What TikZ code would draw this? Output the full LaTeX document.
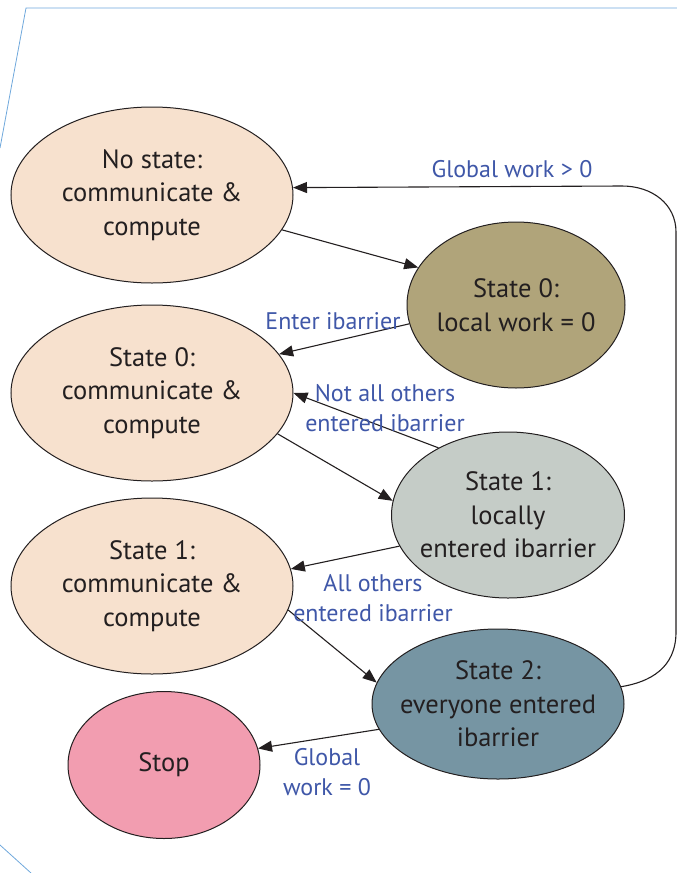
\documentclass[tikz,border=0pt]{standalone}
\usepackage{fontspec}
\setmainfont{PT Sans}
\usetikzlibrary{shapes.geometric,arrows.meta}
\definecolor{peach}{RGB}{247,225,206}
\definecolor{olive}{RGB}{176,164,122}
\definecolor{greyst}{RGB}{197,204,199}
\definecolor{steel}{RGB}{118,149,163}
\definecolor{pinkst}{RGB}{242,157,176}
\definecolor{lblue}{RGB}{63,87,168}
\definecolor{frameblue}{RGB}{111,168,220}
\definecolor{ink}{RGB}{35,31,32}
\tikzset{
  st/.style={ellipse, draw=ink, line width=1pt, inner sep=-40pt, align=center,
    text=ink, font=\fontsize{26.5}{33.5}\selectfont},
  conn/.style={draw=ink, line width=1.1pt, -{Triangle[length=14pt,width=11pt]}},
  lbl/.style={text=lblue, align=center, font=\fontsize{24}{30}\selectfont, inner sep=0pt},
  frame/.style={draw=frameblue, line width=0.8pt}
}
\begin{document}
\begin{tikzpicture}[x=1pt,y=-1pt]
\useasboundingbox (0,0) rectangle (677,873);
% frame lines
\coordinate (f1) at (0,148);
\coordinate (f2) at (26,8);
\coordinate (f3) at (677,8);
\coordinate (f4) at (0,845);
\coordinate (f5) at (31,873);
\draw[frame] (f1) -- (f2) -- (f3);
\draw[frame] (f4) -- (f5);
% states
\node[st, fill=peach, minimum width=282pt, minimum height=176pt] (ns) at (152,195) {No state:\\communicate \&\\compute};
\node[st, fill=olive, minimum width=218pt, minimum height=166pt] (lw) at (516,305) {State 0:\\local work = 0};
\node[st, fill=peach, minimum width=282pt, minimum height=176pt] (c0) at (152,393) {State 0:\\communicate \&\\compute};
\node[st, fill=greyst, minimum width=233pt, minimum height=166pt] (le) at (508,515) {State 1:\\locally\\entered ibarrier};
\node[st, fill=peach, minimum width=282pt, minimum height=176pt] (c1) at (152,586) {State 1:\\communicate \&\\compute};
\node[st, fill=steel, minimum width=252pt, minimum height=150pt] (s2) at (498,704) {State 2:\\everyone entered\\ibarrier};
\node[st, fill=pinkst, minimum width=192pt, minimum height=147pt] (sp) at (164,765) {Stop};
% connectors
\draw[conn] (ns.-15) -- (lw.159);
\draw[conn] (lw.190) -- (c0.17);
\draw[conn] (le.136) -- (c0.0);
\draw[conn] (c0.-18) -- (le.173);
\draw[conn] (le.196) -- (c1.7);
\draw[conn] (c1.-10) -- (s2.170);
\draw[conn] (s2.192) -- (sp.10);
\draw[conn] (s2.8) .. controls (650,682) and (676,668) .. (676,632)
  -- (676,232) .. controls (676,204) and (652,186) .. (622,186) -- (ns.3.6);
% labels
\node[lbl] (l1) at (512,169) {Global work > 0};
\node[lbl] (l2) at (333,321) {Enter ibarrier};
\node[lbl] (l3) at (385,408) {Not all others\\entered ibarrier};
\node[lbl] (l4) at (373,598) {All others\\entered ibarrier};
\node[lbl] (l5) at (327,772) {Global\\work = 0};
\end{tikzpicture}
\end{document}
